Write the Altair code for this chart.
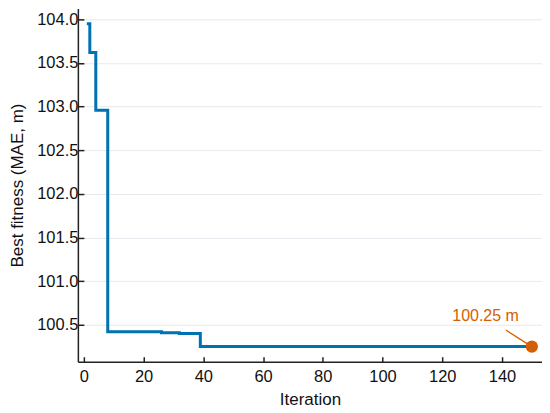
import altair as alt
import pandas as pd

# Best-so-far fitness at the iterations where it changes (step-after), plus final iteration
iterations = [1, 2, 4, 8, 26, 32, 39, 150]
best_fitness = [103.95, 103.62, 102.96, 100.42, 100.41, 100.40, 100.25, 100.25]

final_iter = [150]
final_value = [100.25]
label_text = ["100.25 m"]
label_x = [134.5]
label_y = [100.60]
leader_x = [141.3]
leader_y = [100.44]

x_ticks = [0, 20, 40, 60, 80, 100, 120, 140]
y_ticks = [100.5, 101.0, 101.5, 102.0, 102.5, 103.0, 103.5, 104.0]

BLUE = "#0072B2"
ORANGE = "#D55E00"
FONT = "Liberation Sans"

df = pd.DataFrame({"iter": iterations, "fit": best_fitness})
df_end = pd.DataFrame({"iter": final_iter, "fit": final_value})
df_lab = pd.DataFrame({"x": label_x, "y": label_y, "t": label_text})
df_lead = pd.DataFrame({"x": leader_x, "y": leader_y, "x2": final_iter, "y2": final_value})

xscale = alt.Scale(domain=[-2, 153.4], nice=False, zero=False)
yscale = alt.Scale(domain=[100.077, 104.126], nice=False, zero=False)

xaxis = alt.Axis(values=x_ticks, title="Iteration", grid=False, format="d",
                 tickSize={"expr": "-5"}, labelPadding=12, titlePadding=6)
yaxis = alt.Axis(values=y_ticks, title="Best fitness (MAE, m)", grid=True, format=".1f",
                 tickSize={"expr": "-6"}, labelPadding=6, titlePadding=10)

line = alt.Chart(df).mark_line(interpolate="step-after", color=BLUE, strokeWidth=3).encode(
    x=alt.X("iter:Q", scale=xscale, axis=xaxis),
    y=alt.Y("fit:Q", scale=yscale, axis=yaxis),
)

lead = alt.Chart(df_lead).mark_rule(color=ORANGE, strokeWidth=1.3).encode(
    x="x:Q", y="y:Q", x2="x2:Q", y2="y2:Q"
)

dot = alt.Chart(df_end).mark_circle(color=ORANGE, size=150, opacity=1).encode(
    x="iter:Q", y="fit:Q"
)

lab = alt.Chart(df_lab).mark_text(color=ORANGE, fontSize=16, font=FONT, align="center",
                                  baseline="middle").encode(
    x="x:Q", y="y:Q", text="t:N"
)

chart = alt.layer(line, lead, dot, lab).properties(
    width=465, height=354,
    autosize=alt.AutoSizeParams(type="none"),
    padding={"left": 70, "top": 0, "right": 0, "bottom": 50},
).configure_view(stroke=None).configure_axis(
    labelFont=FONT, titleFont=FONT, labelFontSize=16.5, titleFontSize=17,
    labelColor="#111111", titleColor="#111111", titleFontWeight="normal",
    domainColor="#222222", domainWidth=1.5, tickColor="#222222", tickWidth=1.5,
    gridColor="#e8e8ee", gridWidth=1,
)

chart.save("out.html", embed_options={"renderer": "svg", "actions": False})
